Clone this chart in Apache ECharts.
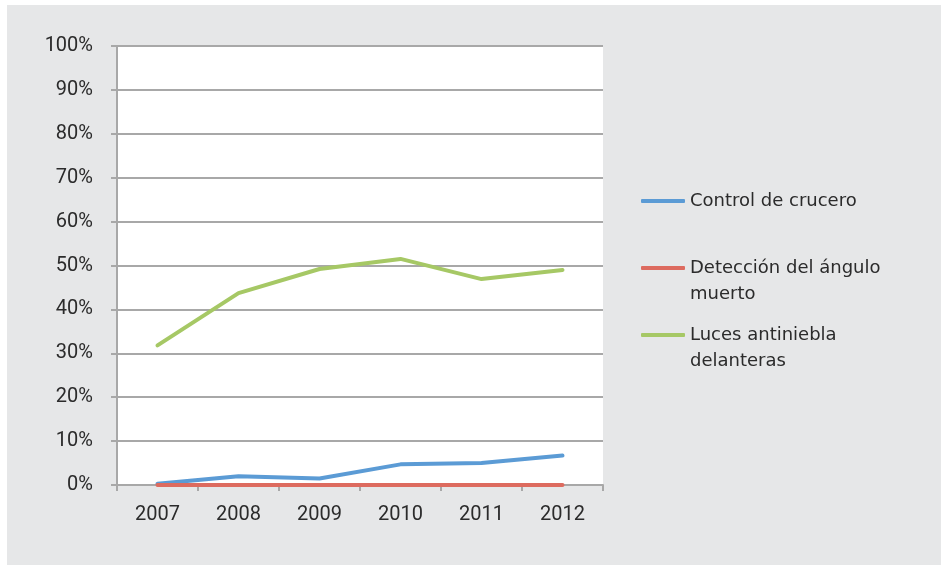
<!DOCTYPE html>
<html>
<head>
<meta charset="utf-8">
<script src="https://cdn.jsdelivr.net/npm/echarts@6/dist/echarts.min.js"></script>
<style>
  html, body { margin: 0; padding: 0; background: #fff; }
  #chart { width: 941px; height: 567px; }
</style>
</head>
<body>
<div id="chart"></div>
<script>
// años y porcentajes
var years = ['2007', '2008', '2009', '2010', '2011', '2012']
var seriesNames = ['Control de crucero', 'Detección del ángulo muerto', 'Luces antiniebla delanteras']
var legendLabels = ['Control de crucero', 'Detección del ángulo\nmuerto', 'Luces antiniebla\ndelanteras']
var crucero = [0.3, 2.0, 1.5, 4.7, 5.0, 6.7]
var anguloMuerto = [0, 0, 0, 0, 0, 0]
var antiniebla = [31.8, 43.7, 49.2, 51.5, 46.9, 49.0]
var colors = ['#5b9bd5', '#dd6b5f', '#a6c865']

var chart = echarts.init(document.getElementById('chart'))

var gridColor = '#a8a8a8'
var textColor = '#2b2b2b'

function legendFor(i, top) {
  // línea en blanco delante para que el icono quede junto a la primera línea
  var label = legendLabels[i].indexOf('\n') >= 0 ? '\n' + legendLabels[i] : legendLabels[i]
  return {
    orient: 'vertical',
    left: 641,
    top: top,
    padding: 0,
    icon: 'roundRect',
    itemWidth: 44,
    itemHeight: 4,
    data: [seriesNames[i]],
    formatter: function () { return label },
    textStyle: {
      fontFamily: 'DejaVu Sans',
      fontSize: 18,
      lineHeight: 26,
      color: textColor
    }
  }
}

function lineSeries(i, data) {
  return {
    name: seriesNames[i],
    type: 'line',
    data: data,
    symbol: 'none',
    color: colors[i],
    lineStyle: { width: 4, color: colors[i], cap: 'round', join: 'round' },
    itemStyle: { color: colors[i] },
    z: 3 + i
  }
}

chart.setOption({
  animation: false,
  graphic: [{
    type: 'rect',
    silent: true,
    z: -10,
    shape: { x: 7, y: 5, width: 934, height: 560 },
    style: { fill: '#e6e7e8' }
  }],
  grid: {
    left: 117,
    right: 338,
    top: 46,
    bottom: 82,
    show: true,
    backgroundColor: '#ffffff',
    borderWidth: 0
  },
  legend: [legendFor(0, 188), legendFor(1, 229), legendFor(2, 296)],
  xAxis: {
    type: 'category',
    data: years,
    boundaryGap: true,
    axisLine: { lineStyle: { color: gridColor, width: 2 } },
    axisTick: { show: true, length: 6, lineStyle: { color: gridColor, width: 2 } },
    axisLabel: { color: textColor, fontFamily: 'Roboto', fontSize: 20, margin: 20 },
    splitLine: { show: false }
  },
  yAxis: {
    type: 'value',
    min: 0,
    max: 100,
    interval: 10,
    axisLine: { show: true, lineStyle: { color: gridColor, width: 2 } },
    axisTick: { show: true, length: 6, lineStyle: { color: gridColor, width: 2 } },
    axisLabel: {
      color: textColor, fontFamily: 'Roboto', fontSize: 20, margin: 24,
      formatter: '{value}%'
    },
    splitLine: { lineStyle: { color: gridColor, width: 2 } }
  },
  series: [
    lineSeries(0, crucero),
    lineSeries(1, anguloMuerto),
    lineSeries(2, antiniebla)
  ]
})
</script>
</body>
</html>
